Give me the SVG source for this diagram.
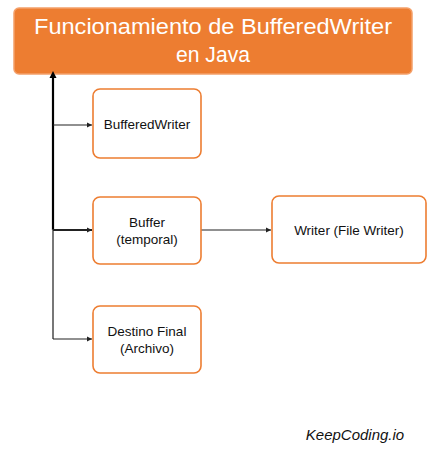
<svg xmlns="http://www.w3.org/2000/svg" width="437" height="450" viewBox="0 0 437 450">
<defs>
<marker id="ah" markerWidth="6" markerHeight="6" refX="5" refY="3" orient="auto" markerUnits="userSpaceOnUse">
<path d="M0,0.5 L5,3 L0,5.5 Z" fill="#222"/>
</marker>
<marker id="ahb" markerWidth="8" markerHeight="8" refX="4" refY="7" orient="0" markerUnits="userSpaceOnUse">
<path d="M0.5,7 L4,0 L7.5,7 Z" fill="#000"/>
</marker>
<style>
.box{fill:#fff;stroke:#ED7D31;stroke-width:1.6}
.lbl{font-family:"Liberation Sans",Arial,sans-serif;font-size:13.5px;fill:#111;text-anchor:middle}
.title{font-family:"Liberation Sans",Arial,sans-serif;font-size:22px;fill:#fff;text-anchor:middle}
.con{fill:none;stroke:#222;stroke-width:1.2}
</style>
</defs>
<rect width="437" height="450" fill="#fff"/>
<g id="title">
<rect x="14" y="8" width="398" height="66" rx="5" fill="#ED7D31" stroke="#F4A06A" stroke-width="1.5"/>
<text class="title" x="213" y="34" textLength="358" lengthAdjust="spacingAndGlyphs">Funcionamiento de BufferedWriter</text>
<text class="title" x="213" y="62" textLength="74" lengthAdjust="spacingAndGlyphs">en Java</text>
</g>
<g id="connectors">
<path d="M53,230 L53,78" fill="none" stroke="#000" stroke-width="2.2" marker-end="url(#ahb)"/>
<path d="M53,229 L53,339" fill="none" stroke="#555" stroke-width="1.6"/>
<path class="con" d="M53,125 L92,125" marker-end="url(#ah)"/>
<path d="M53,230 L92,230" fill="none" stroke="#222" stroke-width="2" marker-end="url(#ah)"/>
<path class="con" d="M53,339 L92,339" marker-end="url(#ah)"/>
<path class="con" d="M201,230 L271,230" marker-end="url(#ah)"/>
</g>
<g id="n-bufferedwriter">
<rect class="box" x="93" y="89" width="108" height="69" rx="7"/>
<text class="lbl" x="147" y="129">BufferedWriter</text>
</g>
<g id="n-buffer">
<rect class="box" x="93" y="197" width="108" height="67" rx="7"/>
<text class="lbl" x="147" y="227">Buffer</text>
<text class="lbl" x="147" y="244">(temporal)</text>
</g>
<g id="n-writer">
<rect class="box" x="272" y="196" width="154" height="67" rx="7"/>
<text class="lbl" x="349" y="235">Writer (File Writer)</text>
</g>
<g id="n-destino">
<rect class="box" x="93" y="306" width="108" height="67" rx="7"/>
<text class="lbl" x="147" y="336">Destino Final</text>
<text class="lbl" x="147" y="353">(Archivo)</text>
</g>
<text x="355" y="440" font-family="Liberation Sans,Arial,sans-serif" font-size="15" font-style="italic" fill="#111" text-anchor="middle">KeepCoding.io</text>
</svg>
